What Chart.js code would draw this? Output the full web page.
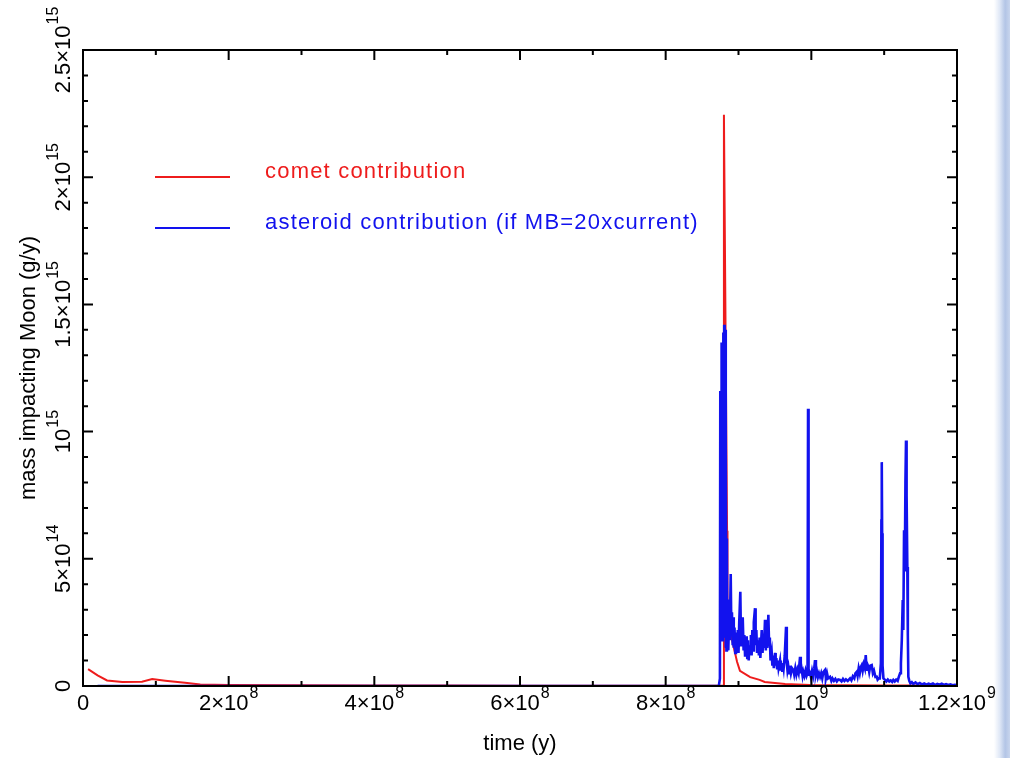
<!DOCTYPE html>
<html>
<head>
<meta charset="utf-8">
<script src="https://cdn.jsdelivr.net/npm/chart.js@4.4.1/dist/chart.umd.min.js"></script>
<style>
  html, body { margin: 0; padding: 0; background: #fff; }
  #wrap { position: relative; width: 1010px; height: 758px; }
  #edge {
    position: absolute; top: 0; right: 0; width: 16px; height: 758px;
    background: linear-gradient(to right, rgba(255,255,255,0) 0%, #e0e8f6 35%, #b3c5e6 70%, #c8d5ed 100%);
  }
</style>
</head>
<body>
<div id="wrap"><canvas id="chart"></canvas><div id="edge"></div></div>
<script>
// time in Myr, mass in units of 10^14 g/y
const cometTimeMyr = [7, 20, 33, 54, 81, 95, 113, 140, 161, 200, 300, 400, 500, 600, 700, 800, 860, 879,
  880, 884.3, 884.9, 898, 902, 916, 929, 936, 964, 998, 1050, 1100, 1150, 1200];
const cometMass = [0.66, 0.42, 0.22, 0.16, 0.17, 0.27, 0.21, 0.13, 0.06, 0.04, 0.03, 0.02, 0.02, 0.01, 0.01, 0.01, 0.01, 0.02,
  22.45, 6.1, 2.6, 0.95, 0.6, 0.35, 0.24, 0.16, 0.08, 0.04, 0.03, 0.02, 0.02, 0.01];

const asteroidTimeMyr = [
  20, 873, 874.5, 875, 875.6, 876.2, 876.8, 877.4, 878, 878.6, 879.2, 879.8, 880.4, 881, 881.6, 882.2, 882.8, 883.4, 884, 884.6, 885.2,
  886, 887, 888, 889.3, 890.2, 891, 892, 892.5, 893.5, 894.5, 895.5, 896.5, 898, 899, 900, 901, 902.5, 903.5, 904.5, 905.8,
  907, 908, 909, 910, 911.3, 912, 913, 914, 915, 915.8, 917, 918, 919, 920, 921, 922.7, 923.5, 924.5, 925.5, 927.2,
  928, 929, 930, 931.9, 933, 934, 935, 936.4, 937.5, 938.5, 939.5, 941, 942, 943, 944, 945.6, 946.5, 947.5, 948.5, 950.2,
  951, 952, 953, 954, 955, 957, 958, 959, 960, 961, 962, 963.5, 965.3, 966.3, 967.3, 968.4, 969.5, 970.5, 972, 973.5,
  975.3, 976.5, 978, 979.5, 981, 982.5, 984.5, 985.5, 986.5, 988, 989, 990.5, 992, 993.5, 994.8, 995.5, 996.2, 997, 998.2, 999.5,
  1001, 1002.5, 1004, 1005.1, 1006.3, 1007.5, 1009, 1010.5, 1012, 1013.5, 1015, 1016.5, 1018.8, 1020, 1021.5, 1023, 1025.7, 1027.5, 1029, 1031,
  1033, 1035, 1037, 1039.4, 1041.5, 1043.5, 1045.5, 1047.5, 1050, 1053.2, 1055, 1057, 1059, 1060.5, 1062.3, 1063.5, 1065, 1066.5, 1068, 1069.2,
  1070.5, 1072, 1073.5, 1074.7, 1076, 1077, 1078.3, 1079.5, 1081, 1082.9, 1084.5, 1086, 1088, 1089.8, 1091, 1092.5, 1094, 1095.5, 1096.2, 1096.7,
  1097.2, 1097.8, 1099, 1101.2, 1103, 1105, 1107, 1109, 1111, 1112.6, 1114.5, 1116.5, 1118.5, 1120, 1121.8, 1123, 1124.2, 1125.5, 1126.3, 1127.3,
  1128.3, 1129.2, 1130, 1130.8, 1131.8, 1132.5, 1133.2, 1134.5, 1136, 1138, 1140, 1143, 1146, 1149, 1152, 1155, 1158, 1161, 1164, 1167,
  1170, 1173, 1176, 1179, 1182, 1185, 1188, 1191, 1194, 1197, 1200
];
const asteroidMass = [
  0, 0, 0.3, 11.6, 2.0, 9.6, 13.5, 1.8, 12.8, 3.5, 13.9, 2.6, 14.2, 1.9, 14.0, 1.5, 9.4, 1.4, 5.8, 1.6, 3.4,
  1.4, 2.6, 1.8, 4.4, 2.0, 2.9, 1.6, 2.7, 1.5, 2.3, 1.3, 2.1, 1.5, 2.2, 1.3, 2.5, 3.7, 1.6, 2.2, 2.7,
  1.4, 2.0, 1.2, 1.9, 1.9, 1.1, 1.8, 1.0, 1.6, 1.4, 2.0, 1.2, 2.2, 1.4, 2.5, 3.06, 1.6, 2.2, 1.3, 1.8,
  1.2, 1.9, 1.1, 2.2, 1.3, 1.9, 1.5, 2.6, 1.4, 2.1, 1.5, 2.8, 1.6, 1.9, 1.0, 1.3, 0.8, 1.2, 0.7, 1.3,
  0.8, 1.1, 0.7, 1.0, 0.7, 1.0, 0.6, 0.9, 0.6, 0.9, 0.7, 1.2, 2.33, 0.9, 0.6, 0.76, 0.5, 0.8, 0.5, 0.7,
  0.63, 0.45, 0.7, 0.45, 0.65, 0.5, 1.15, 0.5, 0.7, 0.4, 0.56, 0.4, 0.6, 0.4, 0.5, 10.9, 0.4, 0.6, 0.51, 0.35,
  0.6, 0.4, 0.7, 1.02, 0.45, 0.6, 0.35, 0.5, 0.36, 0.5, 0.3, 0.55, 0.63, 0.3, 0.5, 0.3, 0.36, 0.2, 0.3, 0.2,
  0.28, 0.18, 0.26, 0.24, 0.18, 0.28, 0.2, 0.26, 0.2, 0.3, 0.22, 0.38, 0.3, 0.5, 0.56, 0.4, 0.7, 0.5, 0.75, 0.82,
  0.6, 0.85, 0.7, 1.22, 0.6, 0.85, 0.76, 0.55, 0.8, 0.82, 0.5, 0.6, 0.35, 0.36, 0.25, 0.3, 0.3, 0.9, 6.5, 8.8,
  6.0, 0.8, 0.3, 0.24, 0.18, 0.25, 0.18, 0.22, 0.16, 0.24, 0.18, 0.25, 0.2, 0.35, 0.5, 0.9, 1.8, 3.38, 2.2, 6.12,
  4.5, 8.0, 9.65, 7.5, 4.68, 2.0, 0.36, 0.2, 0.1, 0.15, 0.08, 0.14, 0.07, 0.12, 0.06, 0.1, 0.05, 0.09, 0.06, 0.1,
  0.04, 0.08, 0.05, 0.09, 0.04, 0.07, 0.04, 0.06, 0.03, 0.05, 0.04
];

const xTickValues = [0, 2e8, 4e8, 6e8, 8e8, 1e9, 1.2e9];
const xTickLabels = ['0', '2×10^8', '4×10^8', '6×10^8', '8×10^8', '10^9', '1.2×10^9'];
const xMinorTicks = [1e8, 3e8, 5e8, 7e8, 9e8, 1.1e9];
const yTickValues = [0, 5e14, 1e15, 1.5e15, 2e15, 2.5e15];
const yTickLabels = ['0', '5×10^14', '10^15', '1.5×10^15', '2×10^15', '2.5×10^15'];
const yMinorTicks = [1e14, 2e14, 3e14, 4e14, 6e14, 7e14, 8e14, 9e14, 1.1e15, 1.2e15, 1.3e15, 1.4e15,
  1.6e15, 1.7e15, 1.8e15, 1.9e15, 2.1e15, 2.2e15, 2.3e15, 2.4e15];

const MYR = 1e6, MASS_UNIT = 1e14;
const RED = '#ee1c1c', BLUE = '#1212ee';
const TICK_FONT = '22px "Liberation Sans", Arial, sans-serif';
const SUP_FONT = '16px "Liberation Sans", Arial, sans-serif';
const SUP_RAISE = 12;

function toPoints(times, masses) {
  return times.map((t, i) => ({ x: t * MYR, y: masses[i] * MASS_UNIT }));
}

// draws "a×10^b" with a raised exponent, centred on cx
function drawSci(ctx, label, cx, base) {
  const parts = label.split('^');
  ctx.font = TICK_FONT;
  const wm = ctx.measureText(parts[0]).width;
  ctx.font = SUP_FONT;
  const we = parts[1] ? ctx.measureText(parts[1]).width + 1 : 0;
  const x0 = cx - (wm + we) / 2;
  ctx.font = TICK_FONT;
  ctx.fillText(parts[0], x0, base);
  if (parts[1]) {
    ctx.font = SUP_FONT;
    ctx.fillText(parts[1], x0 + wm + 1, base - SUP_RAISE);
  }
}

const framePlugin = {
  id: 'frame',
  afterDatasetsDraw(chart) {
    const { ctx, chartArea: a, scales: { x, y } } = chart;
    ctx.save();
    ctx.strokeStyle = '#000';
    ctx.lineWidth = 2;
    ctx.strokeRect(a.left, a.top, a.right - a.left, a.bottom - a.top);
    ctx.beginPath();
    const xt = (vals, len) => vals.forEach(v => {
      const px = x.getPixelForValue(v);
      ctx.moveTo(px, a.bottom); ctx.lineTo(px, a.bottom - len);
      ctx.moveTo(px, a.top); ctx.lineTo(px, a.top + len);
    });
    const yt = (vals, len) => vals.forEach(v => {
      const py = y.getPixelForValue(v);
      ctx.moveTo(a.left, py); ctx.lineTo(a.left + len, py);
      ctx.moveTo(a.right, py); ctx.lineTo(a.right - len, py);
    });
    xt(xTickValues, 10); xt(xMinorTicks, 5);
    yt(yTickValues, 10); yt(yMinorTicks, 5);
    ctx.stroke();

    // tick labels
    ctx.fillStyle = '#000';
    ctx.textAlign = 'left';
    ctx.textBaseline = 'alphabetic';
    xTickValues.forEach((v, i) => drawSci(ctx, xTickLabels[i], x.getPixelForValue(v), a.bottom + 24));
    yTickValues.forEach((v, i) => {
      ctx.save();
      ctx.translate(a.left - 13, y.getPixelForValue(v));
      ctx.rotate(-Math.PI / 2);
      drawSci(ctx, yTickLabels[i], 0, 0);
      ctx.restore();
    });

    // legend in the upper left of the plot
    ctx.lineWidth = 2;
    ctx.font = TICK_FONT;
    if ('letterSpacing' in ctx) ctx.letterSpacing = '1.2px';
    chart.data.datasets.forEach((ds, i) => {
      const ly = 177 + i * 51;
      ctx.strokeStyle = ds.borderColor;
      ctx.beginPath();
      ctx.moveTo(155, ly); ctx.lineTo(230, ly);
      ctx.stroke();
      ctx.fillStyle = ds.borderColor;
      ctx.fillText(ds.label, 265, ly + 1);
    });
    ctx.restore();
  }
};

new Chart(document.getElementById('chart'), {
  type: 'line',
  data: {
    datasets: [
      {
        label: 'comet contribution',
        data: toPoints(cometTimeMyr, cometMass),
        borderColor: RED, borderWidth: 2, pointRadius: 0, tension: 0, order: 1
      },
      {
        label: 'asteroid contribution (if MB=20xcurrent)',
        data: toPoints(asteroidTimeMyr, asteroidMass),
        borderColor: BLUE, borderWidth: 2.6, pointRadius: 0, tension: 0, order: 0
      }
    ]
  },
  options: {
    responsive: true,
    maintainAspectRatio: false,
    animation: false,
    layout: { padding: { top: 50, right: 53, left: 0, bottom: 0 } },
    plugins: { legend: { display: false }, tooltip: { enabled: false } },
    scales: {
      x: {
        type: 'linear', min: 0, max: 1.2e9,
        grid: { display: false }, border: { display: false },
        ticks: { display: false },
        title: { display: true, text: 'time (y)', color: '#000', padding: { top: 0, bottom: 1 },
          font: { family: '"Liberation Sans", Arial, sans-serif', size: 22 } },
        afterFit(scale) { scale.height = 72; }
      },
      y: {
        type: 'linear', min: 0, max: 2.5e15,
        grid: { display: false }, border: { display: false },
        ticks: { display: false },
        title: { display: true, text: 'mass impacting Moon (g/y)', color: '#000', padding: { top: 16, bottom: 0 },
          font: { family: '"Liberation Sans", Arial, sans-serif', size: 22 } },
        afterFit(scale) { scale.width = 83; }
      }
    }
  },
  plugins: [framePlugin]
});
</script>
</body>
</html>
